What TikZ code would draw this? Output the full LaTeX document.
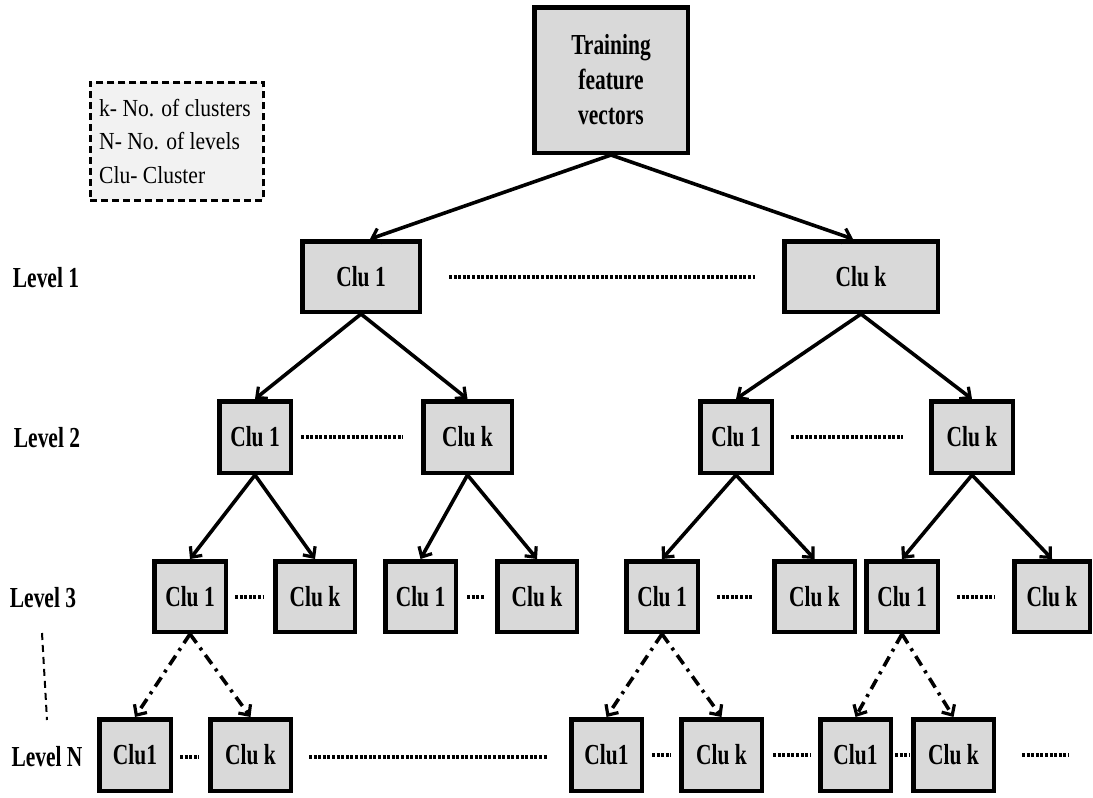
\documentclass[tikz,border=0pt]{standalone}
\usepackage{fontspec}
\setmainfont{Liberation Serif}
\usepackage{graphicx}
\usetikzlibrary{arrows.meta,calc}
\definecolor{boxgray}{RGB}{217,217,217}
\definecolor{leggray}{RGB}{242,242,242}
\newcommand\sqz[1]{\scalebox{0.74}[1]{#1}}
\newcommand\legsq[1]{\scalebox{0.88}[1]{#1}}
\newcommand\cbox[6]{%
  \pgfmathsetmacro\bw{#4-#2-4.5}\pgfmathsetmacro\bh{#5-#3-4.5}%
  \node[box,minimum width=\bw pt,minimum height=\bh pt] (#1) at ({(#2+#4)/2},{(#3+#5)/2}) {#6};}
\begin{document}
\begin{tikzpicture}[x=1pt,y=-1pt,
  box/.style={draw=black,line width=4.5pt,fill=boxgray,inner sep=0pt,
    font=\fontsize{29}{35}\selectfont\bfseries,align=center},
  lab/.style={font=\fontsize{29}{35}\selectfont\bfseries},
  arr/.style={line width=3.6pt,-{Straight Barb[length=8pt,width=15pt,line width=3.2pt]}},
  ddarr/.style={line width=3.6pt,dash pattern=on 11pt off 6pt on 3pt off 6pt,
    -{Straight Barb[length=8pt,width=15pt,line width=3.2pt]}},
  dots/.style={line width=4.8pt,dash pattern=on 3pt off 1.6pt},
  legbox/.style={draw=black,line width=2.6pt,dash pattern=on 7pt off 4pt,fill=leggray,inner sep=0pt}
]
\useasboundingbox (0,0) rectangle (1093,798);

% legend
\node[legbox,minimum width=173pt,minimum height=118pt,anchor=north west] (leg) at (89,81) {};
\node[anchor=west,align=left,inner sep=0pt,font=\fontsize{24.5}{33.5}\selectfont] (legtext) at (99,141)
  {\legsq{k- No. of clusters}\\ \legsq{N- No. of levels}\\ \legsq{Clu- Cluster}};

% level labels
\node[lab] (lv1) at (46,278) {\sqz{Level 1}};
\node[lab] (lv2) at (47,438) {\sqz{Level 2}};
\node[lab] (lv3) at (43,598) {\sqz{Level 3}};
\node[lab] (lvN) at (47,757) {\sqz{Level N}};
\coordinate (vd1) at (42,633);
\coordinate (vd2) at (47,720);
\draw[line width=2pt,dash pattern=on 7pt off 5pt] (vd1) -- (vd2);

% root
\cbox{root}{532}{5}{690}{155}{\sqz{Training}\\ \sqz{feature}\\ \sqz{vectors}}

% level 1
\cbox{a1}{300}{239}{422}{314}{\sqz{Clu 1}}
\cbox{ak}{782}{239}{940}{314}{\sqz{Clu k}}

% level 2
\cbox{b1}{217}{399}{293}{475}{\sqz{Clu 1}}
\cbox{b2}{421}{399}{514}{475}{\sqz{Clu k}}
\cbox{b3}{698}{399}{774}{475}{\sqz{Clu 1}}
\cbox{b4}{929}{399}{1015}{475}{\sqz{Clu k}}

% level 3
\cbox{c1}{152}{559}{228}{634}{\sqz{Clu 1}}
\cbox{c2}{273}{559}{357}{634}{\sqz{Clu k}}
\cbox{c3}{383}{559}{458}{634}{\sqz{Clu 1}}
\cbox{c4}{495}{559}{579}{634}{\sqz{Clu k}}
\cbox{c5}{624}{559}{700}{634}{\sqz{Clu 1}}
\cbox{c6}{772}{559}{857}{634}{\sqz{Clu k}}
\cbox{c7}{864}{559}{940}{634}{\sqz{Clu 1}}
\cbox{c8}{1012}{559}{1092}{634}{\sqz{Clu k}}

% level N
\cbox{d1}{97}{717}{173}{793}{\sqz{Clu1}}
\cbox{d2}{208}{717}{293}{793}{\sqz{Clu k}}
\cbox{d3}{569}{717}{644}{793}{\sqz{Clu1}}
\cbox{d4}{679}{717}{764}{793}{\sqz{Clu k}}
\cbox{d5}{818}{717}{893}{793}{\sqz{Clu1}}
\cbox{d6}{911}{717}{996}{793}{\sqz{Clu k}}

% solid arrows
\draw[arr] (root.south) -- ($(a1.north)+(9,0)$);
\draw[arr] (root.south) -- ($(ak.north)+(-8,0)$);
\draw[arr] (a1.south) -- (b1.north);
\draw[arr] (a1.south) -- (b2.north);
\draw[arr] (ak.south) -- (b3.north);
\draw[arr] (ak.south) -- (b4.north);
\draw[arr] (b1.south) -- (c1.north);
\draw[arr] (b1.south) -- (c2.north);
\draw[arr] (b2.south) -- (c3.north);
\draw[arr] (b2.south) -- (c4.north);
\draw[arr] (b3.south) -- (c5.north);
\draw[arr] (b3.south) -- (c6.north);
\draw[arr] (b4.south) -- (c7.north);
\draw[arr] (b4.south) -- (c8.north);

% dash-dot arrows
\draw[ddarr] (c1.south) -- (d1.north);
\draw[ddarr] (c1.south) -- (d2.north);
\draw[ddarr] (c5.south) -- (d3.north);
\draw[ddarr] (c5.south) -- (d4.north);
\draw[ddarr] (c7.south) -- (d5.north);
\draw[ddarr] (c7.south) -- (d6.north);

% dotted ellipses
\draw[dots] (449,277) -- (755,277);
\draw[dots] (301,437) -- (403,437);
\draw[dots] (791,437) -- (903,437);
\draw[dots] (235,597) -- (264,597);
\draw[dots] (467,597) -- (485,597);
\draw[dots] (717,597) -- (752,597);
\draw[dots] (957,597) -- (995,597);
\draw[dots] (180,757) -- (199,757);
\draw[dots] (309,757) -- (547,757);
\draw[dots] (652,755) -- (671,755);
\draw[dots] (773,755) -- (810,755);
\draw[dots] (895,755) -- (910,755);
\draw[dots] (1022,755) -- (1069,755);
\end{tikzpicture}
\end{document}
